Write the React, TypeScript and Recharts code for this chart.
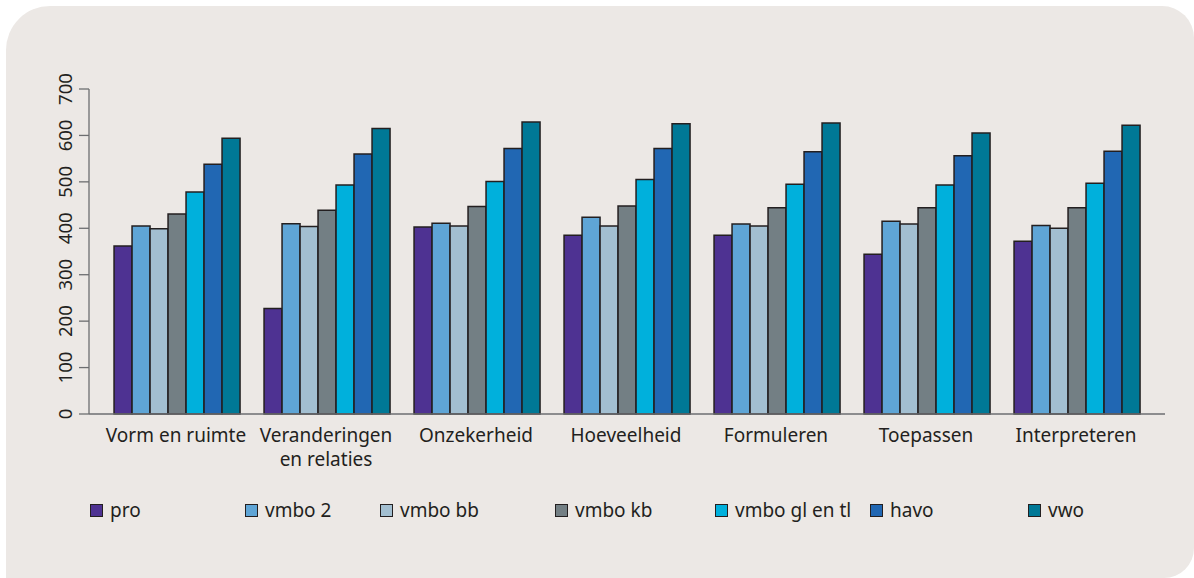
import React from 'react';
import { BarChart, Bar, XAxis, YAxis } from 'recharts';

const categories = [
  'Vorm en ruimte',
  'Veranderingen en relaties',
  'Onzekerheid',
  'Hoeveelheid',
  'Formuleren',
  'Toepassen',
  'Interpreteren',
];

const pro = [362, 227, 403, 385, 385, 344, 372];
const vmbo2 = [405, 410, 411, 424, 409, 415, 406];
const vmboBb = [399, 404, 405, 405, 405, 409, 400];
const vmboKb = [431, 439, 447, 448, 444, 444, 444];
const vmboGlTl = [478, 493, 501, 505, 495, 493, 497];
const havo = [538, 560, 572, 572, 565, 556, 566];
const vwo = [594, 615, 629, 625, 627, 605, 622];

const yTicks = [0, 100, 200, 300, 400, 500, 600, 700];

const series = [
  { key: 'pro', name: 'pro', values: pro, color: '#4e3292' },
  { key: 'vmbo2', name: 'vmbo 2', values: vmbo2, color: '#5fa5d6' },
  { key: 'vmboBb', name: 'vmbo bb', values: vmboBb, color: '#a3bfd1' },
  { key: 'vmboKb', name: 'vmbo kb', values: vmboKb, color: '#737f84' },
  { key: 'vmboGlTl', name: 'vmbo gl en tl', values: vmboGlTl, color: '#00b0dc' },
  { key: 'havo', name: 'havo', values: havo, color: '#2167b3' },
  { key: 'vwo', name: 'vwo', values: vwo, color: '#007896' },
];

const data = categories.map((name, i) => {
  const row: any = { name };
  series.forEach((s) => {
    row[s.key] = s.values[i];
  });
  return row;
});

const FONT = '"Noto Sans", sans-serif';
const TEXT = '#231f20';
const AXIS = '#6d6e70';

// widths of the legend slots, left to right
const legendSlots = [155, 135, 175, 160, 155, 158, 120];

const YTick = ({ x, y, payload }: any) => (
  <text
    x={x - 5}
    y={y}
    transform={`rotate(-90, ${x - 5}, ${y})`}
    textAnchor="middle"
    fill={TEXT}
    fontSize={18.5}
    fontFamily={FONT}
  >
    {payload.value}
  </text>
);

// one text per line so the two lines of a wrapped label stay apart
const XTick = ({ x, y, payload }: any) => {
  const label: string = payload.value;
  const lines = label === 'Veranderingen en relaties' ? ['Veranderingen', 'en relaties'] : [label];
  return (
    <g>
      {lines.map((l, i) => (
        <text
          key={i}
          x={x}
          y={y + 20 + i * 24}
          textAnchor="middle"
          fill={TEXT}
          fontSize={19}
          fontFamily={FONT}
        >
          {l}
        </text>
      ))}
    </g>
  );
};

export default function App() {
  return (
    <div style={{ position: 'absolute', left: 0, top: 0, width: 1194, height: 578, background: '#fff', overflow: 'hidden' }}>
      <div
        style={{
          position: 'absolute',
          left: 6,
          top: 6,
          width: 1188,
          height: 572,
          background: '#ece8e5',
          borderRadius: '44px 32px 30px 0',
        }}
      />
      <div style={{ position: 'absolute', left: 0, top: 0 }}>
        <BarChart
          width={1194}
          height={578}
          data={data}
          margin={{ top: 89, right: 29, left: 29, bottom: 94 }}
          barGap={0}
          barCategoryGap="8.7%"
        >
          <XAxis
            dataKey="name"
            height={70}
            tick={<XTick />}
            tickLine={false}
            axisLine={{ stroke: AXIS, strokeWidth: 1.5 }}
            interval={0}
            padding={{ left: 12, right: 14 }}
          />
          <YAxis
            width={60}
            domain={[0, 700]}
            ticks={yTicks}
            tick={<YTick />}
            tickSize={10}
            tickLine={{ stroke: AXIS, strokeWidth: 1.3 }}
            axisLine={{ stroke: AXIS, strokeWidth: 1.3 }}
            interval={0}
          />
          {series.map((s) => (
            <Bar
              key={s.key}
              dataKey={s.key}
              name={s.name}
              fill={s.color}
              stroke={TEXT}
              strokeWidth={1.5}
              isAnimationActive={false}
            />
          ))}
        </BarChart>
      </div>
      <div style={{ position: 'absolute', left: 90, top: 497, display: 'flex', fontFamily: FONT, fontSize: 19, color: TEXT }}>
        {series.map((s, i) => (
          <div key={s.key} style={{ width: legendSlots[i], display: 'flex', alignItems: 'center', gap: 7, height: 26 }}>
            <div style={{ width: 11, height: 11, background: s.color, border: `1.3px solid ${TEXT}` }} />
            <span>{s.name}</span>
          </div>
        ))}
      </div>
    </div>
  );
}
